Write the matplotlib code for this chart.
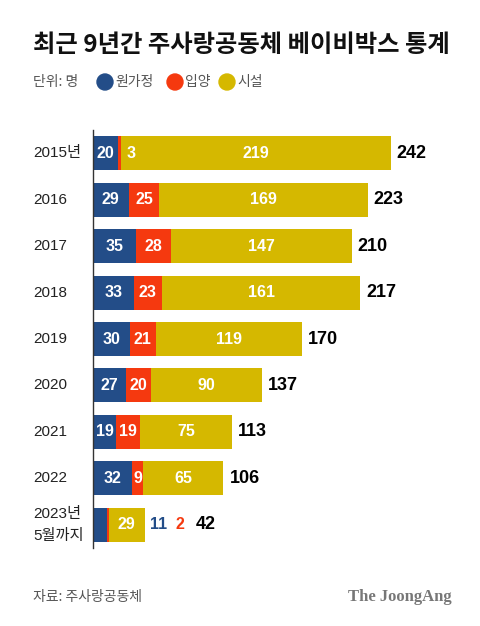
import numpy as np
import matplotlib.pyplot as plt
from matplotlib.patches import Ellipse

plt.rcParams['font.family'] = ['Noto Sans CJK KR', 'DejaVu Sans']

# data
years = ['2015년', '2016', '2017', '2018', '2019', '2020', '2021', '2022', '2023년\n5월까지']
home = [20, 29, 35, 33, 30, 27, 19, 32, 11]       # 원가정
adopt = [3, 25, 28, 23, 21, 20, 19, 9, 2]          # 입양
facility = [219, 169, 147, 161, 119, 90, 75, 65, 29]  # 시설
totals = [242, 223, 210, 217, 170, 137, 113, 106, 42]

c_blue = '#234d88'
c_red = '#f5390f'
c_yellow = '#d5b800'
latin = ['Liberation Sans', 'Noto Sans CJK KR']

fig = plt.figure(figsize=(4.8, 6.26), dpi=100)
ax = fig.add_axes([93/480, 1-548/626, 1-93/480, 418/626])

y = np.arange(len(years))
h = 0.73
home = np.array(home)
adopt = np.array(adopt)
facility = np.array(facility)

ax.barh(y, home, height=h, color=c_blue)
ax.barh(y, adopt, left=home, height=h, color=c_red)
ax.barh(y, facility, left=home+adopt, height=h, color=c_yellow)

lab = dict(fontsize=11.5, fontweight='bold', va='center', family=latin)
tot = dict(fontsize=13, fontweight='bold', va='center', family=latin, color='black', ha='left')
for i in range(len(years)):
    end = home[i] + adopt[i] + facility[i]
    if totals[i] < 50:
        # small bar: only facility inside, the rest outside
        ax.text(home[i]+adopt[i]+facility[i]/2, i, str(facility[i]), color='white', ha='center', **lab)
        ax.annotate(str(home[i]), (end, i), xytext=(3.6, 0), textcoords='offset points',
                    color=c_blue, ha='left', **lab)
        ax.annotate(str(adopt[i]), (end, i), xytext=(22, 0), textcoords='offset points',
                    color=c_red, ha='left', **lab)
        ax.annotate(str(totals[i]), (end, i), xytext=(37, 0), textcoords='offset points', **tot)
        continue
    ax.text(home[i]/2, i, str(home[i]), color='white', ha='center', **lab)
    if adopt[i] < 8:
        ax.annotate(str(adopt[i]), (home[i]+adopt[i], i), xytext=(3.5, 0), textcoords='offset points',
                    color='white', ha='left', **lab)
    else:
        ax.text(home[i]+adopt[i]/2, i, str(adopt[i]), color='white', ha='center', **lab)
    ax.text(home[i]+adopt[i]+facility[i]/2, i, str(facility[i]), color='white', ha='center', **lab)
    ax.annotate(str(totals[i]), (end, i), xytext=(4.3, 0), textcoords='offset points', **tot)

ax.set_xlim(0, (480-93)/1.231)
ax.set_ylim(len(years)-0.5, -0.5)
for s in ['top', 'right', 'bottom']:
    ax.spines[s].set_visible(False)
ax.spines['left'].set_color('#333333')
ax.spines['left'].set_linewidth(1)
ax.set_xticks([])
ax.set_yticks([])

# year labels
for i, yr in enumerate(years):
    ax.annotate(yr, (0, i), xycoords=('figure fraction', 'data'), xytext=(33*0.72, 0),
                textcoords='offset points', ha='left', va='center', fontsize=11,
                color='#222222', linespacing=1.75, family=latin)

# header
fig.text(33/480, 1-45/626, '최근 9년간 주사랑공동체 베이비박스 통계', fontsize=17.5,
         fontweight='black', ha='left', va='center', color='#111111')
fig.text(33/480, 1-82/626, '단위: 명', fontsize=10, ha='left', va='center', color='#555555')
for xc, name, col in [(105, '원가정', c_blue), (175, '입양', c_red), (227, '시설', c_yellow)]:
    fig.add_artist(Ellipse((xc/480, 1-82/626), 16/480, 16/626, transform=fig.transFigure,
                           color=col))
    fig.text((xc+10)/480, 1-82/626, name, fontsize=10, ha='left', va='center', color='#555555')

# footer
fig.text(33/480, 1-597/626, '자료: 주사랑공동체', fontsize=10, ha='left', va='center', color='#555555')
fig.text(452/480, 1-597/626, 'The JoongAng', fontsize=12, fontweight='bold', ha='right', va='center',
         color='#777777', family=['Liberation Serif', 'DejaVu Serif'])

fig.savefig('out.png', dpi=100)
